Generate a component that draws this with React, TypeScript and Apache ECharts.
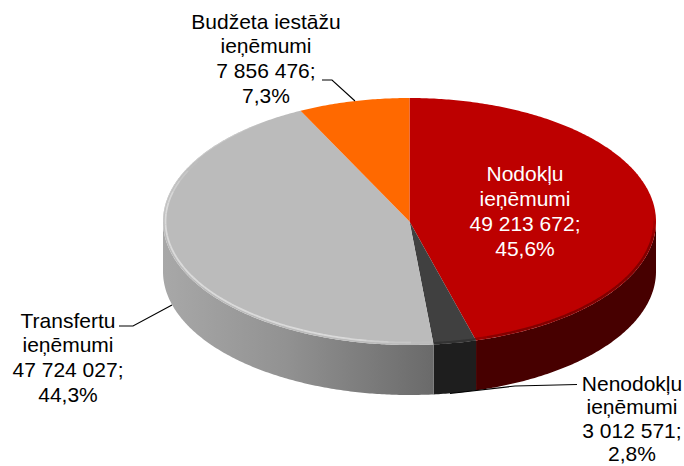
import React, { useEffect, useRef } from "react";
import * as echarts from "echarts";

const categories = ["Nodokļu\nieņēmumi", "Nenodokļu\nieņēmumi", "Transfertu\nieņēmumi", "Budžeta iestāžu\nieņēmumi"];
const values = [49213672, 3012571, 47724027, 7856476];
const topColors = ["#BD0000", "#404040", "#BBBBBB", "#FF6900"];
const labelColors = ["#FFFFFF", "#000000", "#000000", "#000000"];
const labelCenters = [[525, 173], [632, 383.5], [68, 320], [266, 21]];
const labelSteps = [25, 23.4, 24.7, 24.8];
const leaders: number[][][] = [
  [],
  [[450, 393.5], [515, 386], [577, 384.5]],
  [[172, 305], [133, 326], [119, 326]],
  [[355, 101], [332, 80], [322, 80]],
];

const CX = 409.5, CY = 221.5, RX = 246.5, RY = 123.5, DEPTH = 50;
const FONT_SIZE = 21;
const total = values.reduce((a, b) => a + b, 0);

const fmt = (v: number) => String(v).replace(/\B(?=(\d{3})+$)/g, " ");
const pct = (v: number) => ((v / total) * 100).toFixed(1).replace(".", ",") + "%";

// angle is measured clockwise from 12 o'clock
const pt = (a: number, inset = 0, dy = 0): number[] => [
  CX + Math.sin(a) * (RX - inset),
  CY - Math.cos(a) * (RY - inset) + dy,
];
const arc = (a0: number, a1: number, inset = 0, dy = 0): number[][] => {
  const n = Math.max(2, Math.ceil(Math.abs(a1 - a0) / 0.01));
  const out: number[][] = [];
  for (let i = 0; i <= n; i++) out.push(pt(a0 + ((a1 - a0) * i) / n, inset, dy));
  return out;
};
const deg = (d: number) => (d * Math.PI) / 180;

function fadeRim(a0: number, a1: number, inset: number, width: number, color: string, maxOp: number, children: any[]) {
  const steps = 24;
  for (let i = 0; i < steps; i++) {
    const t = (i + 0.5) / steps;
    const op = maxOp * Math.min(1, Math.min(t, 1 - t) * 6);
    children.push({
      type: "polyline",
      silent: true,
      shape: { points: arc(a0 + ((a1 - a0) * i) / steps, a0 + ((a1 - a0) * (i + 1)) / steps, inset) },
      style: { stroke: color, lineWidth: width, fill: "none", opacity: op },
    });
  }
}

function wallFill(i: number): any {
  if (i === 0) return "#470000";
  if (i === 1) return "#1E1E1E";
  if (i === 2)
    return new echarts.graphic.LinearGradient(0, 0, 1, 0, [
      { offset: 0, color: "#A8A8A8" },
      { offset: 0.45, color: "#929292" },
      { offset: 1, color: "#6A6A6A" },
    ]);
  return "#7F3500";
}

function renderItem(params: any) {
  const i = params.dataIndex;
  const before = values.slice(0, i).reduce((a, b) => a + b, 0);
  const a0 = (before / total) * Math.PI * 2;
  const a1 = ((before + values[i]) / total) * Math.PI * 2;
  const children: any[] = [];

  // front wall
  const w0 = Math.max(a0, Math.PI / 2);
  const w1 = Math.min(a1, (Math.PI * 3) / 2);
  if (w1 > w0) {
    const top = arc(w0, w1);
    const bottom = arc(w1, w0, 0, DEPTH);
    children.push({
      type: "polygon",
      silent: true,
      shape: { points: top.concat(bottom) },
      style: { fill: wallFill(i), stroke: "none" },
    });
  }

  // top face
  children.push({
    type: "polygon",
    silent: true,
    shape: { points: [[CX, CY] as number[]].concat(arc(a0, a1)) },
    style: { fill: topColors[i], stroke: "none" },
  });

  // soft bevel
  if (i === 0) {
    fadeRim(deg(86), a1 + deg(8), 1.5, 2.5, "#6A0000", 0.7, children);
  } else if (i === 1) {
    children.push({
      type: "polyline",
      silent: true,
      shape: { points: arc(a0, a1, 1.2) },
      style: { stroke: "#2E2E2E", lineWidth: 2.4, fill: "none", opacity: 0.7 },
    });
  } else if (i === 2) {
    fadeRim(a0, deg(300), 2.5, 1.8, "#DEDEDE", 0.9, children);
    fadeRim(deg(262), deg(325), 0.5, 1, "#D2D2D2", 0.7, children);
  }

  // leader line
  if (leaders[i].length) {
    children.push({
      type: "polyline",
      silent: true,
      shape: { points: leaders[i] },
      style: { stroke: "#000000", lineWidth: 1.1, fill: "none" },
    });
  }

  // label
  const lines = `${categories[i]}\n${fmt(values[i])};\n${pct(values[i])}`.split("\n");
  lines.forEach((t, k) => {
    children.push({
      type: "text",
      silent: true,
      style: {
        text: t,
        x: labelCenters[i][0],
        y: labelCenters[i][1] + k * labelSteps[i],
        align: "center",
        verticalAlign: "middle",
        fill: labelColors[i],
        fontFamily: "Liberation Sans",
        fontSize: FONT_SIZE,
      },
    });
  });

  return { type: "group", children };
}

export default function App() {
  const ref = useRef<HTMLDivElement>(null);
  useEffect(() => {
    document.body.style.margin = "0";
    document.body.style.background = "#fff";
    const chart = echarts.init(ref.current!, undefined, { renderer: "svg" });
    chart.setOption({
      animation: false,
      backgroundColor: "#FFFFFF",
      series: [
        {
          type: "custom",
          coordinateSystem: "none",
          renderItem,
          data: values.map((v, i) => ({ name: categories[i], value: v })),
        },
      ],
    });
    return () => chart.dispose();
  }, []);
  return <div ref={ref} style={{ width: 684, height: 466 }} />;
}
